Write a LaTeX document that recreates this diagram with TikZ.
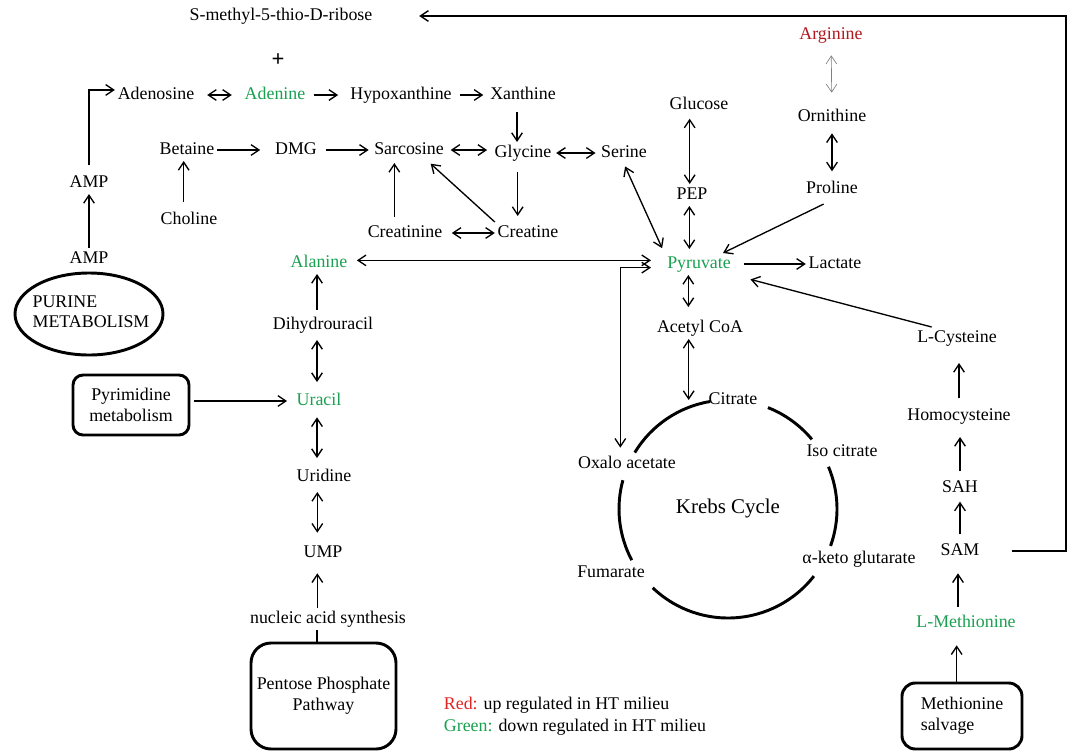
\documentclass[tikz,border=0pt]{standalone}
\usepackage{fontspec}
\setmainfont{Liberation Serif}
\usetikzlibrary{arrows.meta}
\definecolor{upred}{RGB}{175,25,30}
\definecolor{legred}{RGB}{225,35,35}
\definecolor{downgreen}{RGB}{25,160,80}

\begin{document}
\begin{tikzpicture}[x=0.75pt,y=0.75pt,yscale=-1,xscale=1,
  >={Straight Barb[length=6pt,width=8pt]},
  lbl/.style={inner sep=2pt,text height=9.1pt,text depth=3pt,font=\fontsize{13.4}{16}\selectfont},
  down/.style={lbl,text=downgreen},
  up/.style={lbl,text=upred},
  blk/.style={inner sep=2pt,align=left,font=\fontsize{13.4}{15}\selectfont},
  conv/.style={->,line width=1pt},
  rev/.style={<->,line width=1pt},
  heavy/.style={line width=2.2pt},
  pathbox/.style={draw,line width=2.2pt,inner sep=0pt,align=center,font=\fontsize{13.4}{16}\selectfont}]
\useasboundingbox (0,0) rectangle (1071,750);

% Text Node
\node[lbl] (smtr) at (281,16) {S-methyl-5-thio-D-ribose};
\node[inner sep=1pt,font=\fontsize{17}{18}\selectfont\bfseries] (plus) at (278,60) {+};
\node[lbl] (adenosine) at (156,95) {Adenosine};
\node[down] (adenine) at (275,95) {Adenine};
\node[lbl] (hypox) at (401,95) {Hypoxanthine};
\node[lbl] (xanthine) at (523,95) {Xanthine};
\node[lbl] (betaine) at (187,150) {Betaine};
\node[lbl] (dmg) at (296,150) {DMG};
\node[lbl] (sarcosine) at (409,150) {Sarcosine};
\node[lbl] (glycine) at (523,153) {Glycine};
\node[lbl] (serine) at (624,153) {Serine};
\node[lbl] (amptop) at (89,183) {AMP};
\node[lbl] (choline) at (189,220) {Choline};
\node[lbl] (creatinine) at (405,233) {Creatinine};
\node[lbl] (creatine) at (528,233) {Creatine};
\node[lbl] (ampbot) at (89,259) {AMP};
\node[down] (alanine) at (319,263) {Alanine};
\node[lbl] (glucose) at (699,105) {Glucose};
\node[lbl] (pep) at (692,195) {PEP};
\node[up] (arginine) at (831,35) {Arginine};
\node[lbl] (ornithine) at (832,117) {Ornithine};
\node[lbl] (proline) at (832,189) {Proline};
\node[down] (pyruvate) at (699,264) {Pyruvate};
\node[lbl] (lactate) at (835,264) {Lactate};
\node[lbl] (acetyl) at (700,328) {Acetyl CoA};
\node[lbl] (lcys) at (957,338) {L-Cysteine};
\node[blk] (purine) at (91,312) {PURINE\\METABOLISM};
\node[lbl] (dihydro) at (323,325) {Dihydrouracil};
\node[down] (uracil) at (319,401) {Uracil};
\node[pathbox,minimum width=87pt,minimum height=45pt,rounded corners=7.5pt] (pyrimidine) at (131,405) {Pyrimidine\\metabolism};
\node[lbl] (uridine) at (324,477) {Uridine};
\node[lbl] (ump) at (323,553) {UMP};
\node[lbl] (nucleic) at (328,619) {nucleic acid synthesis};
\node[pathbox,minimum width=108.75pt,minimum height=79.5pt,rounded corners=15pt] (ppp) at (323.5,696) {Pentose Phosphate\\Pathway};
\node[lbl] (citrate) at (733,400) {Citrate};
\node[lbl] (isocit) at (842,452) {Iso citrate};
\node[lbl] (oxalo) at (627,464) {Oxalo acetate};
\node[lbl,font=\fontsize{15.7}{18}\selectfont] (krebs) at (728,509) {Krebs Cycle};
\node[lbl] (fumarate) at (611,573) {Fumarate};
\node[lbl] (akg) at (859,559) {α-keto glutarate};
\node[lbl] (homocys) at (959,416) {Homocysteine};
\node[lbl] (sah) at (960,488) {SAH};
\node[lbl] (sam) at (960,551) {SAM};
\node[down] (lmet) at (966,623) {L-Methionine};
\node[pathbox,align=left,minimum width=90pt,minimum height=49.5pt,rounded corners=10pt] (salvage) at (962,716) {Methionine\\salvage};
\node[lbl,anchor=west] (legup) at (441,705) {\textcolor{legred}{Red:} up regulated in HT milieu};
\node[lbl,anchor=west] (legdown) at (441,727) {\textcolor{downgreen}{Green:} down regulated in HT milieu};

%Shape: Ellipse
\draw[heavy] (89,314) ellipse [x radius=74, y radius=41];
%Shape: Arc
\coordinate (kc) at (728,509);
\draw[heavy] (kc) ++(-99.4:109) arc[start angle=-99.4, end angle=-148.8, radius=109];
\draw[heavy] (kc) ++(-68.5:109) arc[start angle=-68.5, end angle=-39.7, radius=109];
\draw[heavy] (kc) ++(-22.8:109) arc[start angle=-22.8, end angle=19.8, radius=109];
\draw[heavy] (kc) ++(38:109) arc[start angle=38, end angle=133.7, radius=109];
\draw[heavy] (kc) ++(152:109) arc[start angle=152, end angle=195.3, radius=109];

%Straight Lines
\coordinate (retcorner) at (1066,16);
\draw[conv,shorten <=22pt,shorten >=33pt] (sam.east) -| (retcorner) -- (smtr.east);
\draw[conv,shorten <=5pt] (amptop.north) |- (adenosine.173);
\draw[conv] (ampbot) -- (amptop);
\draw[rev,shorten <=7.5pt,shorten >=7.5pt] (adenosine.east) -- (adenine.west);
\draw[conv,shorten <=4pt,shorten >=7pt] (adenine) -- (hypox);
\draw[conv,shorten <=4pt,shorten >=3pt] (hypox) -- (xanthine);
\draw[conv,shorten <=4.5pt] ([xshift=-4.5pt]xanthine.south) -- ([xshift=-4.5pt]glycine.north);
\draw[conv,shorten >=9pt] (betaine) -- (dmg);
\draw[conv,shorten <=4.5pt,shorten >=2pt] (dmg) -- (sarcosine);
\draw[rev,shorten <=3pt,shorten >=3.5pt] (sarcosine.east) -- (sarcosine.east -| glycine.west);
\draw[rev,shorten <=1.5pt,shorten >=2pt] (glycine.east) -- (glycine.east -| serine.west);
\draw[conv,shorten <=5pt] ([xshift=-4pt]choline.north) -- ([xshift=-4pt]choline.north |- betaine.south);
\draw[conv,shorten <=4pt,shorten >=1.5pt] ([xshift=-8pt]creatinine.north) -- ([xshift=-8pt]creatinine.north |- sarcosine.south);
\draw[conv,shorten >=3pt] (creatine.north west) -- ([xshift=14pt]sarcosine.south);
\draw[conv,shorten <=6pt,shorten >=4.5pt] ([xshift=-4pt]glycine.south) -- ([xshift=-4pt]glycine.south |- creatine.north);
\draw[rev,shorten <=5pt] (creatinine) -- (creatine);
\draw[rev,shorten <=5pt,shorten >=10pt] (alanine.east |- pyruvate.174) -- (pyruvate.174);
\draw[conv,shorten <=3pt] ([xshift=-4.5pt]dihydro.north) -- ([xshift=-4.5pt]dihydro.north |- alanine.south);
\draw[rev,shorten <=3pt,shorten >=6pt] ([xshift=-4.5pt]dihydro.south) -- ([xshift=-4.5pt]dihydro.south |- uracil.north);
\draw[rev,shorten <=4pt,shorten >=6pt] ([xshift=-1.5pt]uracil.south) -- ([xshift=-1.5pt]uracil.south |- uridine.north);
\draw[rev,shorten <=3pt,shorten >=7pt] ([xshift=-5pt]uridine.south) -- ([xshift=-5pt]uridine.south |- ump.north);
\draw[conv,shorten >=7pt] ([xshift=-8pt]nucleic.north) -- ([xshift=-8pt]nucleic.north |- ump.south);
\draw[line width=1pt] ([xshift=-5pt]ppp.north) -- ([xshift=-5pt]ppp.north |- nucleic.south);
\draw[conv,shorten <=3pt,shorten >=5pt] (pyrimidine.east |- uracil.west) -- (uracil.west);
\draw[<->,line width=0.5pt,draw=gray,shorten <=7pt,shorten >=10pt] (arginine) -- (ornithine);
\draw[rev,shorten <=4pt,shorten >=5pt] (ornithine) -- (proline);
\draw[conv,shorten <=7pt] (proline.south) -- ([xshift=18pt]pyruvate.north);
\draw[rev,shorten <=2pt,shorten >=4pt] (serine.south) -- (pyruvate.north west);
\draw[rev,shorten <=2pt] ([xshift=-7pt]glucose.south) -- ([xshift=-7pt]glucose.south |- pep.north);
\draw[rev,shorten >=3pt] ([xshift=-2pt]pep.south) -- ([xshift=-2pt]pep.south |- pyruvate.north);
\draw[rev,shorten >=7.5pt] ([xshift=-8pt]pyruvate.south) -- ([xshift=-8pt]pyruvate.south |- acetyl.north);
\draw[rev] ([xshift=-8.5pt]acetyl.south) -- ([xshift=-8.5pt]acetyl.south |- citrate.west);
\draw[conv,shorten <=7.5pt] (pyruvate) -- (lactate);
\draw[conv,shorten >=13pt] ([xshift=-19pt]lcys.north) -- (pyruvate.south east);
\draw[rev,shorten <=4pt,shorten >=10pt] ([xshift=-5pt]oxalo.north) |- (pyruvate.186);
\draw[conv,shorten <=5pt,shorten >=10.5pt] (homocys.north) -- (homocys.north |- lcys.south);
\draw[conv,shorten <=4.5pt,shorten >=7.5pt] (sah.north) -- (sah.north |- homocys.south);
\draw[conv,shorten <=4.5pt,shorten >=2pt] (sam.north) -- (sam.north |- sah.south);
\draw[conv,shorten <=4pt,shorten >=8.5pt] ([xshift=-6pt]lmet.north) -- ([xshift=-6pt]lmet.north |- sam.south);
\draw[conv,shorten >=8.5pt] ([xshift=-4pt]salvage.north) -- ([xshift=-4pt]salvage.north |- lmet.south);

\end{tikzpicture}
\end{document}
